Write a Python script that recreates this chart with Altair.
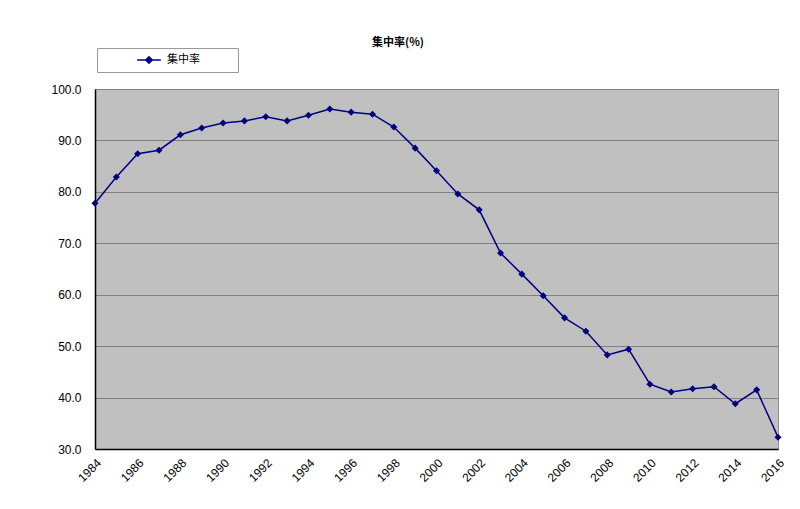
import altair as alt
import pandas as pd

years = list(range(1984, 2017))
values = [77.8, 82.9, 87.4, 88.1, 91.1, 92.4, 93.4, 93.8, 94.6, 93.8,
          94.9, 96.1, 95.5, 95.1, 92.6, 88.5, 84.1, 79.6, 76.5, 68.1,
          64.0, 59.8, 55.5, 52.9, 48.3, 49.4, 42.6, 41.1, 41.7, 42.1,
          38.8, 41.5, 32.3]
series_name = "集中率"
title_text = "集中率(%)"
x_ticks = list(range(1984, 2017, 2))
y_ticks = list(range(30, 101, 10))

df = pd.DataFrame({"year": years, "value": values, "series": [series_name] * len(years)})

navy = "#000080"
color = alt.Color(
    "series:N",
    scale=alt.Scale(domain=[series_name], range=[navy]),
    legend=alt.Legend(
        title=None,
        orient="none",
        legendX=2,
        legendY=-41,
        fillColor="white",
        strokeColor="#9a9a9a",
        padding=5,
        symbolOffset=34,
        symbolType="M-1,0L1,0M0,-0.28L0.28,0L0,0.28L-0.28,0Z",
        symbolSize=560,
        symbolFillColor=navy,
        symbolStrokeColor=navy,
        symbolStrokeWidth=1.5,
        clipHeight=14,
        labelFont="Noto Sans CJK JP",
        labelFontSize=11,
        labelColor="#000000",
        labelOffset=5,
        labelExpr="datum.label + '\u3000\u3000\u3000\u200b'",
    ),
)

x = alt.X("year:Q",
          scale=alt.Scale(domain=[1984, 2016], nice=False, zero=False),
          axis=alt.Axis(values=x_ticks, format="d", labelAngle=315, title=None,
                        grid=False, ticks=False, labelAlign="right", labelBaseline="top",
                        labelPadding=8, labelFont="Liberation Sans", labelFontSize=12,
                        labelColor="#000000", domainColor="#000000", domainWidth=1.5))
y = alt.Y("value:Q",
          scale=alt.Scale(domain=[30, 100], nice=False, zero=False),
          axis=alt.Axis(values=y_ticks, format=".1f", title=None, ticks=False,
                        labelPadding=14, labelFont="Liberation Sans", labelFontSize=12,
                        labelColor="#000000", domainColor="#000000", domainWidth=1.5,
                        gridColor="#808080", gridWidth=1, gridOpacity=1))

base = alt.Chart(df)
line = base.mark_line(strokeWidth=1.5).encode(x=x, y=y, color=color)
pts = base.mark_point(shape="diamond", filled=True, size=50, opacity=1).encode(
    x=x, y=y, color=alt.Color("series:N", scale=alt.Scale(domain=[series_name], range=[navy]), legend=None))

chart = alt.layer(line, pts).properties(
    width=683,
    height=360,
    padding={"left": 87, "top": 81, "right": 14, "bottom": 50},
    autosize=alt.AutoSizeParams(type="none"),
    background="white",
    title=alt.TitleParams(title_text, anchor="start", frame="group", dx=277, offset=0,
                          font="Noto Sans CJK JP", fontSize=11, fontWeight="bold",
                          color="#000000"),
).configure_view(
    fill="#C0C0C0", stroke="#909090", strokeWidth=1
)

chart.save("out.html", embed_options={"renderer": "svg", "actions": False})
